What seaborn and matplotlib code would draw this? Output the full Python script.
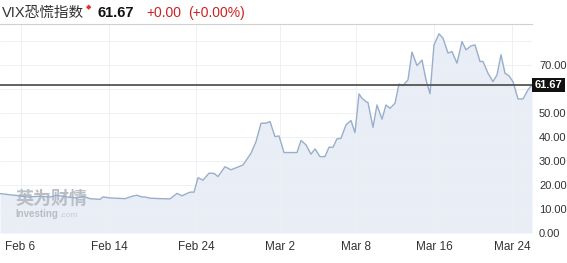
import matplotlib
matplotlib.use("Agg")
import matplotlib.pyplot as plt
import seaborn as sns
import pandas as pd

# ---- data ----
t = [0.0, 1.5, 2.7, 4.0, 5.0, 5.7, 6.7, 7.7, 8.3, 9.0, 10.0, 10.3, 11.0, 12.5, 13.3, 13.7,
     14.2, 14.5, 15.0, 16.0, 17.0, 17.7, 18.2, 19.0, 19.4, 19.8, 20.3, 20.9, 21.4, 21.8,
     22.5, 23.1, 24.3, 25.1, 25.6, 26.1, 26.6, 27.0, 27.5, 27.9, 28.4, 29.7, 30.1, 30.6,
     31.1, 31.5, 32.0, 32.5, 32.9, 33.3, 33.7, 34.1, 34.6, 35.1, 35.5, 35.9, 36.2, 36.6,
     36.8, 37.3, 37.7, 38.2, 38.6, 39.0, 39.5, 39.9, 40.3, 40.8, 41.2, 41.7, 42.2, 42.6,
     43.0, 43.4, 43.9, 44.3, 44.8, 45.2, 45.7, 46.2, 46.6, 47.1, 47.5, 48.0, 48.3, 48.8,
     49.3, 49.7, 50.1, 50.5, 50.9, 51.3, 51.8, 52.3, 52.8, 53.2]
vix = [16.4, 15.7, 15.0, 15.3, 15.0, 15.7, 15.0, 14.6, 15.3, 14.3, 14.0, 15.0, 14.6, 14.3, 15.4, 15.7,
       15.0, 15.0, 14.5, 14.3, 14.2, 16.5, 15.5, 17.0, 17.0, 23.0, 22.0, 24.9, 24.8, 23.5,
       27.6, 26.3, 28.3, 33.2, 38.0, 45.7, 45.7, 46.4, 40.1, 40.4, 33.5, 33.5, 38.5, 36.7,
       32.8, 35.0, 31.8, 31.8, 35.7, 35.7, 39.2, 39.4, 45.0, 46.8, 41.8, 57.9, 56.1, 54.7,
       54.3, 44.0, 53.3, 47.4, 53.3, 51.9, 54.0, 62.0, 61.4, 63.75, 75.3, 69.7, 72.0, 63.75,
       58.0, 78.3, 82.9, 81.1, 74.9, 75.5, 70.7, 79.7, 76.25, 77.9, 78.3, 71.4, 71.4, 66.5,
       63.0, 65.8, 74.2, 66.5, 65.4, 63.0, 55.8, 55.8, 59.6, 61.67]

tick_pos = [2.05, 10.9, 19.6, 28.0, 35.6, 43.4, 51.2]
tick_labels = ["Feb 6", "Feb 14", "Feb 24", "Mar 2", "Mar 8", "Mar 16", "Mar 24"]
y_ticks = [0, 10, 20, 30, 40, 50, 70]
last_value = 61.67
change = "+0.00"
change_pct = "(+0.00%)"
name = "VIX恐慌指数"

df = pd.DataFrame({"t": t, "vix": vix})

sns.set_theme(style="white")
plt.rcParams["font.family"] = ["Liberation Sans", "Noto Sans CJK SC", "DejaVu Sans"]

W, H = 567, 263
fig = plt.figure(figsize=(W / 100, H / 100), dpi=100)
ax = fig.add_axes([0.0, 30 / H, 532 / W, (233 - 24) / H])

line_c = "#98aecb"
fill_c = "#e8edf6"

ax.fill_between(df["t"], df["vix"], 0, color=fill_c, zorder=1, linewidth=0)
sns.lineplot(data=df, x="t", y="vix", ax=ax, color=line_c, linewidth=1.0, zorder=3)

ax.set_xlim(0, 53.2)
ax.set_ylim(0, 87)

# grid
for yv in range(0, 90, 10):
    ax.axhline(yv, color="#edf0f4", linewidth=0.7, zorder=2)
for xv in tick_pos:
    ax.axvline(xv, color="#edf0f4", linewidth=0.7, zorder=2)

# current value line
ax.axhline(last_value, color="#555555", linewidth=1.3, zorder=4)

ax.set_xticks(tick_pos)
ax.set_xticklabels(tick_labels, fontsize=8.5, color="#333333")
ax.yaxis.tick_right()
ax.set_yticks(y_ticks)
ax.set_yticklabels([f"{v:.2f}" for v in y_ticks], fontsize=8, color="#333333")
ax.tick_params(axis="both", length=0, pad=5)
ax.tick_params(axis="x", pad=6)
ax.set_xlabel("")
ax.set_ylabel("")

for s in ["left", "right", "bottom"]:
    ax.spines[s].set_visible(False)
ax.spines["top"].set_color("#d0d0d0")
ax.spines["top"].set_linewidth(0.8)

# value label box on right axis
ax.text(1.005, last_value, f"{last_value:.2f}", transform=ax.get_yaxis_transform(),
        fontsize=8, color="white", fontweight="bold", va="center", ha="left",
        bbox=dict(boxstyle="square,pad=0.2", fc="#111111", ec="none"), zorder=6,
        clip_on=False)

# watermark
ax.text(0.03, 0.12, "英为财情", transform=ax.transAxes, fontsize=13, fontweight="bold",
        color="#b9bec6", family=["Noto Sans CJK SC"], zorder=2, va="bottom", ha="left")
ax.text(0.028, 0.065, "Investing", transform=ax.transAxes, fontsize=7, fontweight="bold",
        color="#b9bec6", zorder=2, va="bottom", ha="left")
ax.text(0.112, 0.065, ".com", transform=ax.transAxes, fontsize=6,
        color="#c8ccd2", zorder=2, va="bottom", ha="left")

# header
ty = 1 - 13 / H
fig.text(2 / W, ty, name, fontsize=10.5, color="#333333", va="center", ha="left",
         family=["Liberation Sans", "Noto Sans CJK SC"])
fig.text(89 / W, 1 - 7 / H, "◆", fontsize=5, color="#e03030", va="center", ha="center",
         family=["DejaVu Sans"])
fig.text(98 / W, ty, f"{last_value:.2f}", fontsize=10.5, color="#111111", fontweight="bold",
         va="center", ha="left")
fig.text(146 / W, ty, change, fontsize=10, color="#cc2222", va="center", ha="left")
fig.text(188 / W, ty, change_pct, fontsize=10, color="#cc2222", va="center", ha="left")

fig.savefig("out.png", dpi=100)
